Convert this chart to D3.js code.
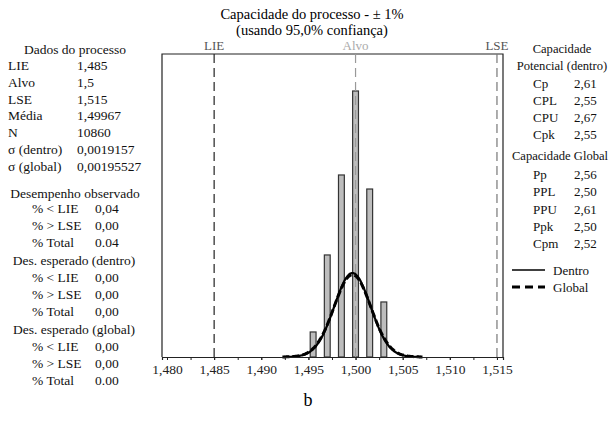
<!DOCTYPE html>
<html>
<head>
<meta charset="utf-8">
<script src="https://cdn.jsdelivr.net/npm/d3@7"></script>
<style>
  body { margin: 0; background: #fff; }
  svg text { font-family: "Liberation Serif", "Times New Roman", Times, "DejaVu Serif", "Noto Serif", serif !important; }
</style>
</head>
<body>
<script>
// histogram bins (midpoints) and counts
const binMids = [1.4955, 1.497, 1.4985, 1.500, 1.5015, 1.503];
const binCounts = [337, 1374, 2451, 3582, 2262, 741];
const binWidth = 0.0005;

const xTicks = [1.480, 1.485, 1.490, 1.495, 1.500, 1.505, 1.510, 1.515];
const specs = [
  {name: "LIE", value: 1.485, line: "#222", label: "#555"},
  {name: "Alvo", value: 1.500, line: "#999", label: "#aaa"},
  {name: "LSE", value: 1.515, line: "#777", label: "#555"}
];

const mean = 1.49967;
const nObs = 10860;
const sigmaWithin = 0.0019157;
const sigmaOverall = 0.00195527;

const dadosRows = [["LIE", "1,485"], ["Alvo", "1,5"], ["LSE", "1,515"], ["Média", "1,49967"],
  ["N", "10860"], ["σ (dentro)", "0,0019157"], ["σ (global)", "0,00195527"]];
const obsRows = [["% < LIE", "0,04"], ["% > LSE", "0,00"], ["% Total", "0.04"]];
const expWithinRows = [["% < LIE", "0,00"], ["% > LSE", "0,00"], ["% Total", "0,00"]];
const expOverallRows = [["% < LIE", "0,00"], ["% > LSE", "0,00"], ["% Total", "0.00"]];
const potRows = [["Cp", "2,61"], ["CPL", "2,55"], ["CPU", "2,67"], ["Cpk", "2,55"]];
const globRows = [["Pp", "2,56"], ["PPL", "2,50"], ["PPU", "2,61"], ["Ppk", "2,50"], ["Cpm", "2,52"]];

const width = 612, height = 426;
const fs = 13.5, fsRight = 12.6;
const svg = d3.select("body").append("svg")
  .attr("width", width).attr("height", height)
  .attr("font-family", "Liberation Serif, DejaVu Serif, serif");

const plotLeft = 162, plotRight = 503, plotTop = 54, plotBottom = 357;

const x = d3.scaleLinear()
  .domain([1.47947, 1.51564])
  .range([plotLeft, plotRight]);
const y = d3.scaleLinear()
  .domain([0, 4080])
  .range([plotBottom, plotTop]);

// title
svg.append("text").attr("x", 312).attr("y", 19).attr("text-anchor", "middle")
  .attr("font-size", 14.5).text("Capacidade do processo - ± 1%");
svg.append("text").attr("x", 312).attr("y", 35).attr("text-anchor", "middle")
  .attr("font-size", 14.5).text("(usando 95,0% confiança)");

// frame
svg.append("path")
  .attr("d", `M${plotLeft},${plotBottom}V${plotTop}H${plotRight}V${plotBottom}`)
  .attr("fill", "none").attr("stroke", "#222").attr("stroke-width", 1.2);

// bars (drawn a little wider than the bin so they read like the original)
const barHalf = 0.00031;
svg.selectAll(".bar")
  .data(binMids)
  .join("rect")
  .attr("class", "bar")
  .attr("x", d => x(d - barHalf))
  .attr("width", d => x(d + barHalf) - x(d - barHalf))
  .attr("y", (d, i) => y(binCounts[i]))
  .attr("height", (d, i) => y(0) - y(binCounts[i]))
  .attr("fill", "#bdbdbd")
  .attr("stroke", "#333")
  .attr("stroke-width", 1.2);

// spec lines
specs.forEach(s => {
  svg.append("line")
    .attr("x1", x(s.value)).attr("x2", x(s.value))
    .attr("y1", plotTop).attr("y2", plotBottom)
    .attr("stroke", s.line).attr("stroke-width", 1.2)
    .attr("stroke-dasharray", "9,5");
  svg.append("text")
    .attr("x", x(s.value)).attr("y", 50)
    .attr("text-anchor", "middle").attr("font-size", 13)
    .attr("fill", s.label).text(s.name);
});

// normal curves
function normalCurve(sd) {
  const pts = [];
  const lo = mean - 3.8 * sd, hi = mean + 3.8 * sd;
  for (let i = 0; i <= 200; i++) {
    const v = lo + (hi - lo) * i / 200;
    const dens = Math.exp(-0.5 * Math.pow((v - mean) / sd, 2)) / (sd * Math.sqrt(2 * Math.PI));
    pts.push([v, dens * nObs * binWidth]);
  }
  return pts;
}
const line = d3.line().x(d => x(d[0])).y(d => y(d[1])).curve(d3.curveBasis);
svg.append("path").datum(normalCurve(sigmaWithin))
  .attr("d", line).attr("fill", "none").attr("stroke", "#000").attr("stroke-width", 2.2);
svg.append("path").datum(normalCurve(sigmaOverall))
  .attr("d", line).attr("fill", "none").attr("stroke", "#000").attr("stroke-width", 3)
  .attr("stroke-dasharray", "7,3");

// x axis
const minorTicks = d3.range(0, 15).map(i => 1.480 + i * 0.0025);
svg.append("g")
  .attr("transform", `translate(0,${plotBottom})`)
  .call(d3.axisBottom(x).tickValues(minorTicks).tickSize(3).tickFormat(""))
  .call(g => g.select(".domain").attr("stroke", "#222").attr("stroke-width", 1.2))
  .call(g => g.selectAll(".tick line").attr("stroke", "#222"));
svg.append("g")
  .attr("transform", `translate(0,${plotBottom})`)
  .call(d3.axisBottom(x).tickValues(xTicks).tickSize(3).tickPadding(4)
    .tickFormat(d => d3.format(".3f")(d).replace(".", ",")))
  .call(g => g.select(".domain").remove())
  .call(g => g.attr("font-family", null))
  .call(g => g.selectAll(".tick line").attr("stroke", "#222"))
  .call(g => g.selectAll(".tick text").attr("font-size", 13.5).attr("fill", "#222"));

// text tables
function header(txt, cx, cy, size) {
  svg.append("text").attr("x", cx).attr("y", cy).attr("dy", "0.35em")
    .attr("text-anchor", "middle").attr("font-size", size || fs).attr("fill", "#111").text(txt);
}
function rows(data, lx, vx, y0, step, size) {
  data.forEach((r, i) => {
    svg.append("text").attr("x", lx).attr("y", y0 + i * step).attr("dy", "0.35em")
      .attr("font-size", size || fs).attr("fill", "#111").text(r[0]);
    svg.append("text").attr("x", vx).attr("y", y0 + i * step).attr("dy", "0.35em")
      .attr("font-size", size || fs).attr("fill", "#111").text(r[1]);
  });
}

header("Dados do processo", 75, 49);
rows(dadosRows, 8, 77, 65, 16.9);
header("Desempenho observado", 75, 193);
rows(obsRows, 32, 95, 208, 17);
header("Des. esperado (dentro)", 74, 260);
rows(expWithinRows, 32, 95, 277, 17);
header("Des. esperado (global)", 74, 329);
rows(expOverallRows, 32, 95, 346, 17);

header("Capacidade", 562, 49, fsRight);
header("Potencial (dentro)", 562, 66, fsRight);
rows(potRows, 533, 574, 83, 17.3, fsRight + 0.4);
header("Capacidade Global", 560, 156, fsRight);
rows(globRows, 533, 574, 174.5, 17.3, fsRight + 0.4);

// legend
const legend = [{name: "Dentro", dash: null, w: 1.5, y: 270}, {name: "Global", dash: "8,5", w: 3, y: 287}];
legend.forEach(l => {
  svg.append("line").attr("x1", 512).attr("x2", 545).attr("y1", l.y).attr("y2", l.y)
    .attr("stroke", "#000").attr("stroke-width", l.w)
    .attr("stroke-dasharray", l.dash);
  svg.append("text").attr("x", 553).attr("y", l.y).attr("dy", "0.35em")
    .attr("font-size", fsRight + 0.4).attr("fill", "#111").text(l.name);
});

svg.append("text").attr("x", 308).attr("y", 406).attr("text-anchor", "middle")
  .attr("font-size", 18).text("b");
</script>
</body>
</html>
